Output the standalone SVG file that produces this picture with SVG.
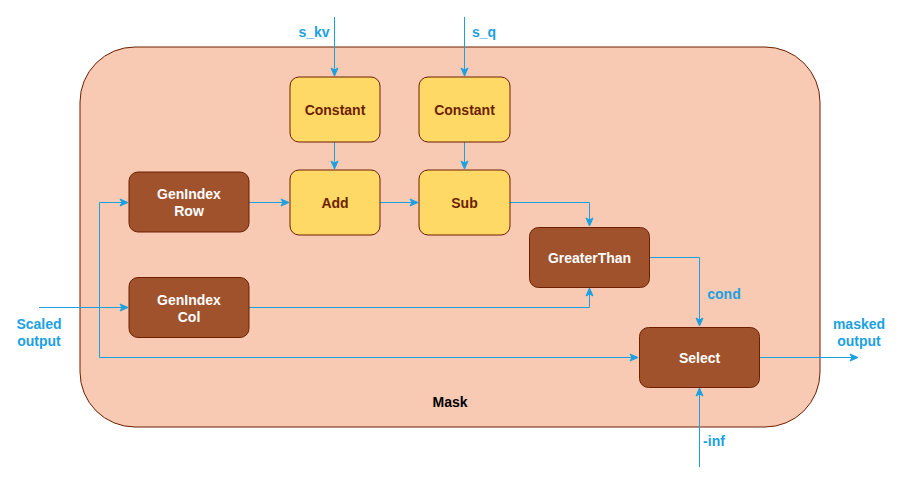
<svg xmlns="http://www.w3.org/2000/svg" width="900" height="486" viewBox="0 0 900 486">
<style>
.t{font-family:"Liberation Sans",Arial,sans-serif;font-weight:bold;font-size:14px;text-anchor:middle}
.y{fill:#FFD966;stroke:#6D1F00;stroke-width:1}
.b{fill:#A0522D;stroke:#6D1F00;stroke-width:1}
.ty{fill:#6D1F00}
.tb{fill:#FFFFFF}
.tl{fill:#1BA1E2}
.e{fill:none;stroke:#1BA1E2;stroke-width:1}
</style>
<defs>
<marker id="a" markerUnits="userSpaceOnUse" markerWidth="10" markerHeight="10" viewBox="0 0 10 10" refX="9" refY="5" orient="auto">
<path d="M1,1.5 L9,5 L1,8.5 L3,5 Z" fill="#1BA1E2" stroke="#1BA1E2" stroke-width="1"/>
</marker>
</defs>
<g id="mask">
<rect x="80" y="47" width="740" height="380" rx="55" ry="55" fill="#F8C9B3" stroke="#6D1F00" stroke-width="1"/>
<text class="t" x="450" y="407" fill="#000000">Mask</text>
</g>
<g id="connectors">
<path class="e" d="M334.5,17 V76" marker-end="url(#a)"/>
<path class="e" d="M464.5,17 V76" marker-end="url(#a)"/>
<path class="e" d="M334.5,142 V169" marker-end="url(#a)"/>
<path class="e" d="M464.5,142 V169" marker-end="url(#a)"/>
<path class="e" d="M249,202.5 H289" marker-end="url(#a)"/>
<path class="e" d="M380,202.5 H418" marker-end="url(#a)"/>
<path class="e" d="M510,202.5 H589.5 V226" marker-end="url(#a)"/>
<path class="e" d="M249,307.5 H589.5 V288" marker-end="url(#a)"/>
<path class="e" d="M649,257.5 H699.5 V326" marker-end="url(#a)"/>
<path class="e" d="M39,307.5 H128" marker-end="url(#a)"/>
<path class="e" d="M99.5,202.5 V357.5 H638" marker-end="url(#a)"/>
<path class="e" d="M99.5,202.5 H128" marker-end="url(#a)"/>
<path class="e" d="M759,357.5 H858" marker-end="url(#a)"/>
<path class="e" d="M699.5,467 V388" marker-end="url(#a)"/>
<text class="t tl" x="314" y="37">s_kv</text>
<text class="t tl" x="484" y="37">s_q</text>
<text class="t tl" x="724" y="299">cond</text>
<text class="t tl" x="714" y="446">-inf</text>
<text class="t tl" x="39" y="329">Scaled</text>
<text class="t tl" x="39" y="346">output</text>
<text class="t tl" x="859" y="329">masked</text>
<text class="t tl" x="859" y="346">output</text>
</g>
<g id="constant1">
<rect class="y" x="290" y="77" width="90" height="65" rx="9"/>
<text class="t ty" x="335" y="114.5">Constant</text>
</g>
<g id="constant2">
<rect class="y" x="419" y="77" width="91" height="65" rx="9"/>
<text class="t ty" x="464.5" y="114.5">Constant</text>
</g>
<g id="add">
<rect class="y" x="290" y="170" width="90" height="65" rx="9"/>
<text class="t ty" x="335" y="207.5">Add</text>
</g>
<g id="sub">
<rect class="y" x="419" y="170" width="91" height="65" rx="9"/>
<text class="t ty" x="464.5" y="207.5">Sub</text>
</g>
<g id="genindex-row">
<rect class="b" x="129" y="172" width="120" height="60" rx="9"/>
<text class="t tb" x="189" y="199">GenIndex</text>
<text class="t tb" x="189" y="216">Row</text>
</g>
<g id="genindex-col">
<rect class="b" x="129" y="277.5" width="120" height="60" rx="9"/>
<text class="t tb" x="189" y="304.5">GenIndex</text>
<text class="t tb" x="189" y="321.5">Col</text>
</g>
<g id="greaterthan">
<rect class="b" x="529.5" y="227.5" width="120" height="60" rx="9"/>
<text class="t tb" x="589.5" y="262.5">GreaterThan</text>
</g>
<g id="select">
<rect class="b" x="639.5" y="327.5" width="120" height="60" rx="9"/>
<text class="t tb" x="699.5" y="362.5">Select</text>
</g>
</svg>
